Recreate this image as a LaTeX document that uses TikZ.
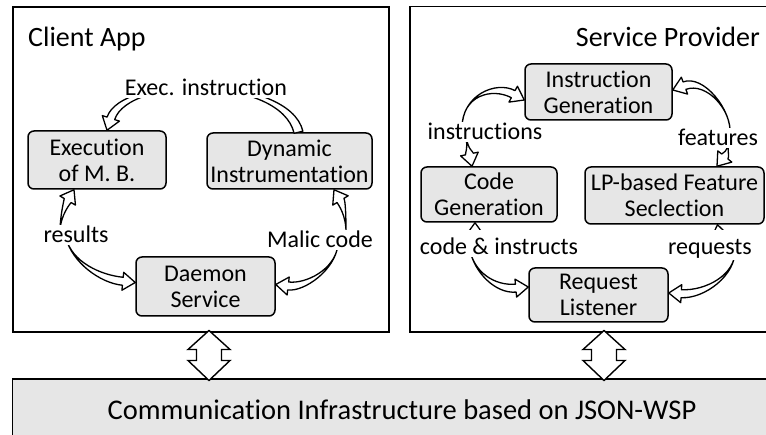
\documentclass[tikz,border=0pt]{standalone}
\usepackage{fontspec}
\setmainfont{Carlito}[Ligatures=NoCommon]
\usetikzlibrary{calc}

\definecolor{boxgray}{RGB}{230,230,230}

% sizes of the curved hollow arrows
\newcommand\bahead{12.5pt} % head length
\newcommand\bawing{9pt}    % half width of the head
\newcommand\baband{4pt}    % half width of the band at the head

% curved hollow arrow: #1 tail, #2 tail half width, #3 and #4 controls, #5 tip
\newcommand\bandarrow[5]{%
  \coordinate (ba-t) at #1;
  \coordinate (ba-c1) at #3;
  \coordinate (ba-c2) at #4;
  \coordinate (ba-e) at #5;
  \coordinate (ba-b) at ($(ba-e)!\bahead!(ba-c2)$);
  \coordinate (ba-bl) at ($(ba-b)!\baband!90:(ba-e)$);
  \coordinate (ba-br) at ($(ba-b)!\baband!-90:(ba-e)$);
  \coordinate (ba-wl) at ($(ba-b)!\bawing!90:(ba-e)$);
  \coordinate (ba-wr) at ($(ba-b)!\bawing!-90:(ba-e)$);
  \coordinate (ba-tl) at ($(ba-t)!#2!90:(ba-c1)$);
  \coordinate (ba-tr) at ($(ba-t)!#2!-90:(ba-c1)$);
  \draw[band] (ba-tl)
      .. controls ($(ba-c1)+(ba-tl)-(ba-t)$) and ($(ba-c2)+(ba-bl)-(ba-b)$) .. (ba-bl)
      -- (ba-wl) -- (ba-e) -- (ba-wr) -- (ba-br)
      .. controls ($(ba-c2)+(ba-br)-(ba-b)$) and ($(ba-c1)+(ba-tr)-(ba-t)$) .. (ba-tr)
      -- cycle;
}

% vertical two-headed block arrow centred on a named coordinate
\newcommand\busarrow[1]{%
  \draw[dblarrow, shift={(#1)}] (0,-25) -- (-21,-6) -- (-12.5,-6) -- (-12.5,5)
    -- (-21,5) -- (0,25) -- (21,5) -- (12.5,5) -- (12.5,-6) -- (21,-6) -- cycle;
}

\tikzset{
  panel/.style={draw, line width=1.8pt, inner sep=0pt},
  block/.style={draw, line width=1.5pt, rounded corners=6pt, fill=boxgray,
    align=center, inner sep=0pt, font=\fontsize{24}{26}\selectfont},
  lbl/.style={fill=white, inner xsep=1pt, inner ysep=1.5pt, anchor=base,
    font=\fontsize{24}{26}\selectfont},
  paneltitle/.style={inner sep=0pt, font=\fontsize{28}{32}\selectfont},
  dblarrow/.style={draw, fill=white, line width=1.4pt, line join=miter},
  band/.style={draw, fill=white, line width=1.3pt, line join=round},
}

\begin{document}
\begin{tikzpicture}[x=1pt, y=-1pt]
\useasboundingbox (0,0) rectangle (766,435);
\fill[white] (0,0) rectangle (766,435);
\clip (0,0) rectangle (766,435);

% panels and the shared bus
\node[panel, minimum width=376pt, minimum height=325pt] (client) at (201,169.5) {};
\node[panel, minimum width=380pt, minimum height=325.5pt] (provider) at (600,169.25) {};
\node[panel, fill=boxgray, minimum width=779pt, minimum height=67pt] (bus) at (402,412.5) {};
\node[paneltitle, anchor=base west] (ctitle) at (28,47) {Client App};
\node[paneltitle, anchor=base east] (ptitle) at (760,47) {Service Provider};
\node[inner sep=0pt, font=\fontsize{28.5}{32}\selectfont, anchor=base] (bustext) at (402,420)
  {Communication Infrastructure based on JSON-WSP};

% links between the panels and the bus
\coordinate (busL) at (client.south -| 209,0);
\coordinate (busR) at (provider.south -| 604,0);
\busarrow{$(busL)!0.5!(busL |- bus.north)$}
\busarrow{$(busR)!0.5!(busR |- bus.north)$}

% client side
\node[block, minimum width=138pt, minimum height=58pt] (exe) at (97,160) {Execution\\of M. B.};
\node[block, minimum width=165pt, minimum height=56pt] (dyn) at (289.5,161) {Dynamic\\Instrumentation};
\node[block, minimum width=139pt, minimum height=59pt] (dae) at (205.5,286.5) {Daemon\\Service};

% provider side
\node[block, minimum width=147pt, minimum height=56pt] (ig) at (598.5,92) {Instruction\\Generation};
\node[block, minimum width=136pt, minimum height=55pt] (cg) at (489,194.5) {Code\\Generation};
\node[block, minimum width=179pt, minimum height=57pt] (lp) at (674.5,195.5) {LP-based Feature\\Seclection};
\node[block, minimum width=139pt, minimum height=54pt] (rl) at (598.5,295) {Request\\Listener};

% client flows
\bandarrow{([xshift=9pt]dyn.north)}{4.5pt}{(285,75)}{(125,75)}{([xshift=10pt]exe.north)}
\bandarrow{(60,232)}{0pt}{(60,215)}{(68,200)}{([xshift=-23pt]exe.south)}
\bandarrow{(66,238)}{0pt}{(72,262)}{(100,279)}{([yshift=4pt]dae.west)}
\bandarrow{(346,232)}{0pt}{(346,215)}{(342,203)}{([xshift=44.5pt]dyn.south)}
\bandarrow{(338,245)}{0pt}{(335,270)}{(305,288)}{([yshift=2pt]dae.east)}

% provider flows
\bandarrow{(462,128)}{0pt}{(462,95)}{(494,84)}{([yshift=-8pt]ig.west)}
\bandarrow{(466,136)}{0pt}{(468,150)}{(469,152)}{([xshift=-17pt]cg.north)}
\bandarrow{(730,134)}{0pt}{(732,110)}{(705,78)}{([yshift=2pt]ig.east)}
\bandarrow{(728,142)}{0pt}{(728,152)}{(726,155)}{([xshift=42.5pt]lp.north)}
\bandarrow{(470,250)}{0pt}{(474,272)}{(495,290)}{([yshift=8pt]rl.west)}
\bandarrow{(476,245)}{0pt}{(476,238)}{(475,233)}{([xshift=-14pt]cg.south)}
\bandarrow{(735,250)}{0pt}{(736,275)}{(705,295)}{([yshift=2pt]rl.east)}
\bandarrow{(722,245)}{0pt}{(721,238)}{(719,233)}{([xshift=43pt]lp.south)}

% flow labels
\node[lbl] (lexec) at (206,96) {Exec. instruction};
\node[lbl] (lres) at (76,243) {results};
\node[lbl] (lmal) at (320,248) {Malic code};
\node[lbl] (linst) at (485,140) {instructions};
\node[lbl] (lfeat) at (718,146) {features};
\node[lbl, text height=23pt] (lcode) at (499,255) {code \& instructs};
\node[lbl, text height=23pt] (lreq) at (710,255) {requests};
\end{tikzpicture}
\end{document}
